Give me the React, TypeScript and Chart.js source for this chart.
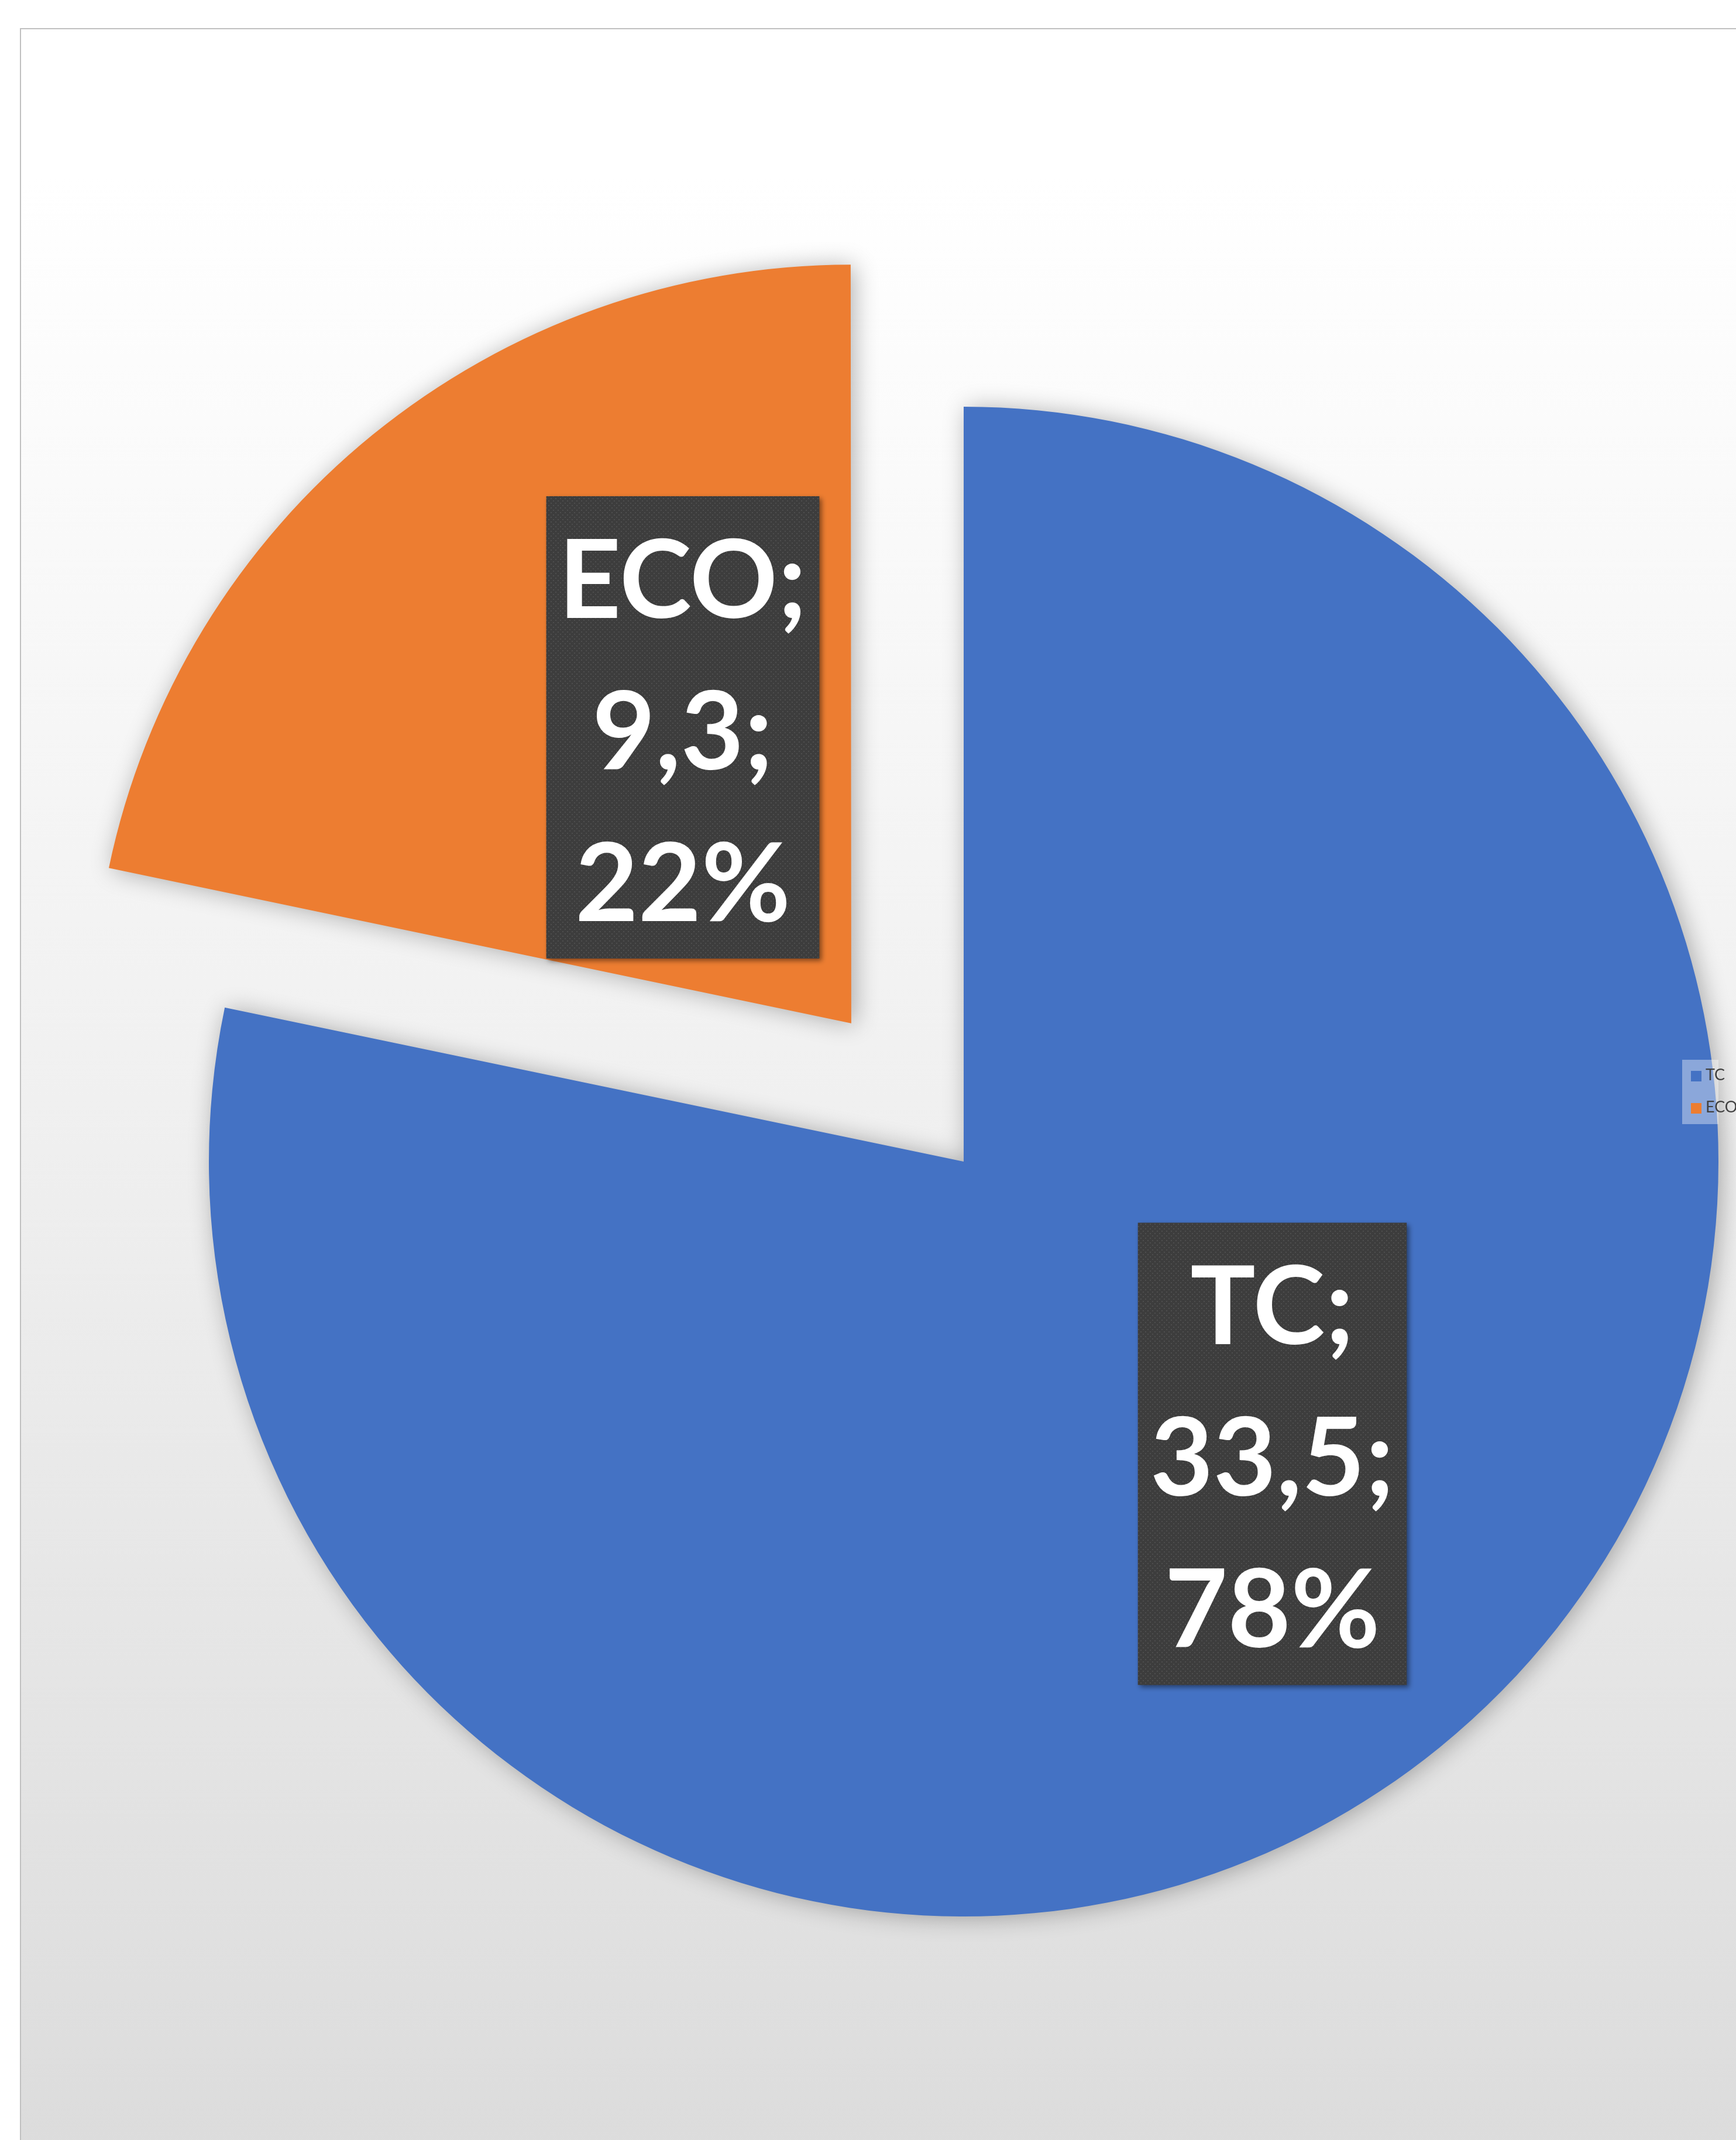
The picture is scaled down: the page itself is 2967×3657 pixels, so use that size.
import React, { useEffect, useRef } from "react";
import { Chart, registerables } from "chart.js";

Chart.register(...registerables);

const categories: string[] = ["TC", "ECO"];
const values: number[] = [33.5, 9.3];
const sliceColors: string[] = ["#4472C4", "#ED7D31"];

const CANVAS_W = 2940;
const CANVAS_H = 3620;

function makePattern(ctx: CanvasRenderingContext2D): CanvasPattern | string {
  const p = document.createElement("canvas");
  p.width = 8;
  p.height = 8;
  const c = p.getContext("2d");
  if (!c) return "#404040";
  c.fillStyle = "#3d3d3d";
  c.fillRect(0, 0, 8, 8);
  c.fillStyle = "#4e4e4e";
  c.fillRect(1, 1, 2, 2);
  c.fillRect(5, 5, 2, 2);
  const pat = ctx.createPattern(p, "repeat");
  return pat || "#404040";
}

const shadowPlugin = {
  id: "sliceShadow",
  beforeDatasetsDraw(chart: any) {
    const ctx = chart.ctx;
    ctx.save();
    ctx.shadowColor = "rgba(0,0,0,0.30)";
    ctx.shadowBlur = 40;
    ctx.shadowOffsetX = 6;
    ctx.shadowOffsetY = 2;
  },
  afterDatasetsDraw(chart: any) {
    chart.ctx.restore();
  },
};

const labelPlugin = {
  id: "boxLabels",
  afterDraw(chart: any, _args: any, opts: any) {
    const ctx: CanvasRenderingContext2D = chart.ctx;
    const meta = chart.getDatasetMeta(0);
    const data: number[] = chart.data.datasets[0].data;
    const labels: string[] = chart.data.labels;
    const total = data.reduce((a, b) => a + b, 0);
    const pattern = makePattern(ctx);
    meta.data.forEach((arc: any, i: number) => {
      const r = arc.outerRadius;
      const anchor = opts.anchors[i];
      const cx = arc.x + anchor[0] * r;
      const cy = arc.y + anchor[1] * r;
      const lines = [
        labels[i] + ";",
        String(data[i]).replace(".", ",") + ";",
        Math.round((data[i] / total) * 100) + "%",
      ];
      ctx.save();
      ctx.font = `bold ${opts.fontSize}px Lato`;
      let maxW = 0;
      lines.forEach((l) => {
        maxW = Math.max(maxW, ctx.measureText(l).width);
      });
      const boxW = maxW + 2 * opts.padX;
      const boxH = opts.boxH;
      const left = cx - boxW / 2;
      const top = cy - boxH / 2;
      ctx.shadowColor = "rgba(0,0,0,0.45)";
      ctx.shadowBlur = 8;
      ctx.shadowOffsetX = 4;
      ctx.shadowOffsetY = 4;
      ctx.fillStyle = pattern as any;
      ctx.fillRect(left, top, boxW, boxH);
      ctx.shadowColor = "transparent";
      ctx.shadowBlur = 0;
      ctx.shadowOffsetX = 0;
      ctx.shadowOffsetY = 0;
      ctx.fillStyle = "#ffffff";
      ctx.textAlign = "center";
      ctx.textBaseline = "alphabetic";
      lines.forEach((l, k) => {
        ctx.fillText(l, cx, top + opts.firstBaseline + k * opts.lineHeight);
      });
      ctx.restore();
    });
  },
};

const legendPlugin = {
  id: "sideLegend",
  afterDraw(chart: any, _args: any, opts: any) {
    const ctx: CanvasRenderingContext2D = chart.ctx;
    const labels: string[] = chart.data.labels;
    const colors: string[] = chart.data.datasets[0].backgroundColor;
    ctx.save();
    ctx.fillStyle = "rgba(255,255,255,0.38)";
    ctx.fillRect(opts.x, opts.y, opts.w, opts.h);
    ctx.font = `${opts.fontSize}px Lato`;
    ctx.textBaseline = "alphabetic";
    ctx.textAlign = "left";
    labels.forEach((lab, i) => {
      const sy = opts.y + opts.firstY + i * opts.gap;
      ctx.fillStyle = colors[i];
      ctx.fillRect(opts.x + 15, sy, opts.sq, opts.sq);
      ctx.fillStyle = "#404040";
      ctx.fillText(lab, opts.x + 40, sy + 16);
    });
    ctx.restore();
  },
};

export default function App() {
  const ref = useRef<HTMLCanvasElement | null>(null);

  useEffect(() => {
    document.documentElement.style.overflow = "hidden";
    document.body.style.overflow = "hidden";
    const canvas = ref.current;
    if (!canvas) return;
    const chart = new Chart(canvas, {
      type: "pie",
      data: {
        labels: categories,
        datasets: [
          {
            data: values,
            backgroundColor: sliceColors,
            borderWidth: 0,
            offset: [0, 1218],
            hoverOffset: 0,
          },
        ],
      },
      options: {
        responsive: false,
        animation: false,
        devicePixelRatio: 1,
        events: [],
        radius: 1290,
        layout: { padding: { left: 282, top: 250, right: 0, bottom: 0 } },
        plugins: {
          legend: { display: false },
          tooltip: { enabled: false },
          boxLabels: {
            anchors: [
              [0.4089, 0.3872],
              [-0.3721, -0.5752],
            ],
            fontSize: 186,
            padX: 21,
            boxH: 790,
            firstBaseline: 208,
            lineHeight: 259,
          },
          sideLegend: {
            x: 2839,
            y: 1761,
            w: 62,
            h: 110,
            firstY: 19,
            gap: 55,
            sq: 18,
            fontSize: 27,
          },
        } as any,
      } as any,
      plugins: [shadowPlugin, labelPlugin, legendPlugin],
    });
    return () => chart.destroy();
  }, []);

  return (
    <div
      style={{
        position: "fixed",
        left: 34,
        top: 48,
        width: CANVAS_W,
        height: CANVAS_H,
        borderTop: "2px solid #c0c0c0",
        borderLeft: "2px solid #c0c0c0",
        background:
          "linear-gradient(to bottom, #ffffff 0%, #ffffff 7%, #f7f7f7 30%, #f1f1f1 48%, #e6e6e6 75%, #dcdcdc 100%)",
        overflow: "hidden",
      }}
    >
      <canvas
        ref={ref}
        width={CANVAS_W}
        height={CANVAS_H}
        style={{ display: "block", width: CANVAS_W, height: CANVAS_H }}
      />
    </div>
  );
}
